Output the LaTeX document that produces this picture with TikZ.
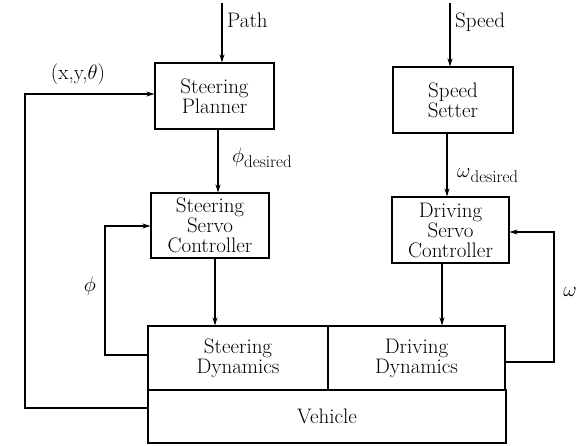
\documentclass[tikz,border=0pt]{standalone}
\usetikzlibrary{arrows.meta,calc}
\newcommand{\subtxt}[1]{\raisebox{-5pt}{\fontsize{17}{17}\selectfont #1}}
\begin{document}
\begin{tikzpicture}[x=1pt,y=-1pt,
  every node/.style={font=\fontsize{21}{20}\selectfont, inner sep=0pt},
  blk/.style={draw, line width=1.1pt, align=center},
  arr/.style={line width=1.1pt, -{Stealth[length=8pt,width=5pt]}},
  ln/.style={line width=1.1pt}]
\useasboundingbox (0,0) rectangle (581,446);
% boxes
\node[blk, minimum width=119pt, minimum height=66pt] (SP) at (214.5,96) {Steering\\Planner};
\node[blk, minimum width=118pt, minimum height=65pt] (SSC) at (210,225.5) {Steering\\Servo\\Controller};
\node[blk, minimum width=120pt, minimum height=66pt] (SS) at (453,100) {Speed\\Setter};
\node[blk, minimum width=117pt, minimum height=66pt] (DSC) at (450.5,230) {Driving\\Servo\\Controller};
\node[blk, minimum width=180pt, minimum height=64pt] (SD) at (238,358) {Steering\\Dynamics};
\node[blk, minimum width=177pt, minimum height=64pt] (DD) at (416.5,358) {Driving\\Dynamics};
\node[blk, minimum width=358pt, minimum height=53pt] (VH) at (327,416.5) {Vehicle};
% inputs
\coordinate (pathtop) at (222,3);
\coordinate (speedtop) at (450,3);
\draw[arr] (pathtop) -- (pathtop |- SP.north);
\draw[arr] (speedtop) -- (speedtop |- SS.north);
\node[anchor=west] (lpath) at (227,20) {Path};
\node[anchor=west] (lspeed) at (455,22) {Speed};
% forward arrows
\draw[arr] (SP.south -| 218,0) -- (SSC.north -| 218,0);
\draw[arr] (SS.south -| 447,0) -- (DSC.north -| 447,0);
\draw[arr] (SSC.south -| 215,0) -- (SD.north -| 215,0);
\draw[arr] (DSC.south -| 442,0) -- (DD.north -| 442,0);
\node[anchor=base west] (lphid) at (232,163) {$\phi$\subtxt{desired}};
\node[anchor=base west] (lomd) at (457,178) {$\omega$\subtxt{desired}};
% feedback loops
\coordinate (phiA) at (105,355);
\coordinate (phiB) at (105,226);
\draw[arr] (SD.west |- phiA) -- (phiA) -- (phiB) -- (SSC.west |- phiB);
\node (lphi) at (90,286) {$\phi$};
\coordinate (omA) at (554,362);
\coordinate (omB) at (554,232);
\draw[arr] (DD.east |- omA) -- (omA) -- (omB) -- (DSC.east |- omB);
\node (lom) at (570,292) {$\omega$};
\coordinate (xyA) at (25,408);
\coordinate (xyB) at (25,94);
\draw[arr] (VH.west |- xyA) -- (xyA) -- (xyB) -- (SP.west |- xyB);
\node (lxy) at (78,74) {(x,y,$\theta$)};
\end{tikzpicture}
\end{document}
